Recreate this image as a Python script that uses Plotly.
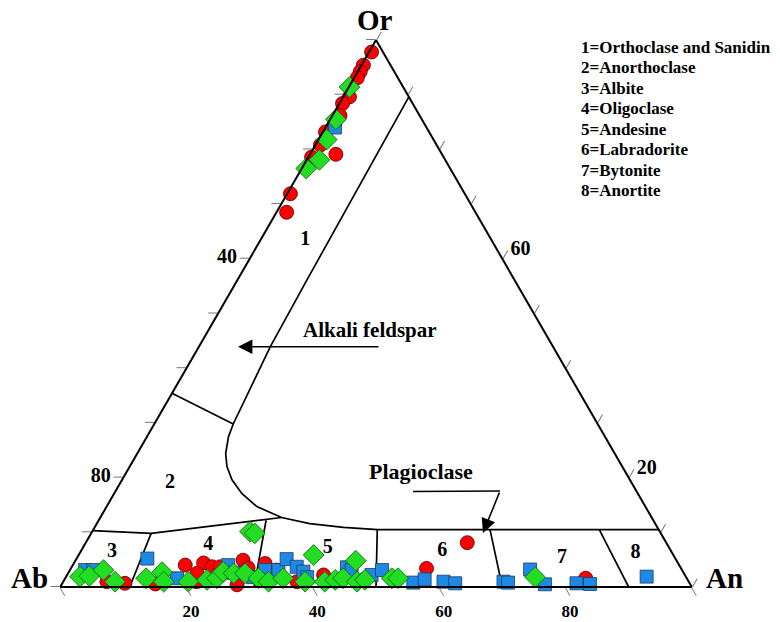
import plotly.graph_objects as go

# ---------------- data (percent Or / An; Ab = 100 - Or - An) ----------------
red_or = [97.8, 95.4, 94.2, 93.1, 89.6, 88.4, 86.2, 84.7, 83.2, 80.8, 78.6, 79.1, 71.9, 68.5,
          0.97, 0.68, 0.55, 4.0, 4.4, 3.7, 3.7, 0.97, 2.5, 4.9, 3.5, 0.4, 4.3, 3.1, 0.97, 2.2,
          1.3, 1.9, 3.4, 8.1, 1.6]
red_an = [0.4, 0.3, 0.4, 0.5, 1.0, 0.5, 1.2, 1.15, 0.4, 0.8, 0.5, 4.1, 0.5, 1.6,
          6.9, 9.9, 14.8, 17.8, 20.5, 22.2, 23.5, 21.1, 20.4, 26.5, 28.0, 27.8, 30.3, 32.7, 37.0, 40.6,
          47.3, 47.8, 56.3, 60.4, 82.4]

blue_or = [84.0,
           3.1, 3.1, 5.2, 1.6, 4.0, 2.6, 1.8, 3.1, 3.1, 5.1, 3.7, 2.8, 1.8, 3.6, 3.1, 2.2, 3.1,
           0.8, 1.4, 0.97, 0.68, 0.97, 0.8, 3.2, 0.5, 0.68, 0.55, 1.9]
blue_an = [1.5,
           2.4, 3.7, 11.2, 17.7, 24.6, 26.1, 29.6, 30.9, 33.0, 33.3, 35.6, 37.1, 38.2, 43.6, 44.6, 48.2, 49.4,
           55.5, 57.0, 60.2, 62.2, 69.7, 70.5, 72.8, 76.5, 81.4, 83.6, 91.9]

green_or = [91.4, 85.5, 81.8, 78.1, 76.5,
            1.9, 2.0, 3.1, 0.97, 1.6, 2.7, 0.97, 0.97, 1.3, 1.6, 2.8, 2.5, 2.5, 10.1, 9.8,
            1.6, 0.97, 1.6, 0.97, 5.85, 0.97, 1.3, 1.6, 4.8, 0.97, 1.3, 1.6, 1.6, 1.8]
green_an = [0.1, 0.9, 1.3, 2.0, 0.7,
            2.2, 3.6, 5.3, 8.2, 12.8, 14.8, 15.9, 19.8, 22.6, 24.0, 24.4, 26.2, 28.0, 25.0, 25.9,
            30.6, 32.5, 34.5, 38.3, 37.2, 41.4, 42.9, 44.0, 44.4, 46.5, 47.6, 51.7, 52.7, 74.3]

# field boundaries (Or, An)
gap_or = [89.6, 56.1, 43.9, 29.8, 27.5, 24.4, 22.0, 19.6, 17.1, 14.7, 12.7, 11.6, 10.9, 10.5, 10.5]
gap_an = [10.4, 11.0, 11.3, 12.5, 12.9, 14.0, 15.4, 17.4, 20.2, 23.8, 28.7, 33.7, 39.4, 45.0, 89.5]

anortho_or = [35.4, 29.8]
anortho_an = [0.0, 12.5]

plag_top_or = [10.3, 9.8, 12.7]
plag_top_an = [0.0, 9.5, 28.7]

div_top_or = [9.8, 12.2, 10.4, 10.5, 10.5]
div_top_an = [9.5, 26.5, 45.0, 62.8, 80.1]
div_bot_an = [11.0, 30.7, 50.0, 70.0, 90.0]

field_names = ["1", "2", "3", "4", "5", "6", "7", "8"]
field_or = [63.4, 19.0, 6.4, 7.7, 7.1, 6.6, 5.3, 6.2]
field_an = [7.1, 7.9, 5.0, 19.6, 38.8, 57.2, 76.8, 88.0]

legend_lines = ["1=Orthoclase and Sanidin", "2=Anorthoclase", "3=Albite", "4=Oligoclase",
                "5=Andesine", "6=Labradorite", "7=Bytonite", "8=Anortite"]

left_ticks = list(range(0, 101, 10))            # Or values on the left edge
left_text = {60: "40", 20: "80"}                # labelled as Ab
right_ticks = list(range(0, 101, 10))           # An values on the right edge
right_text = {40: "60", 80: "20"}               # labelled as Or
bottom_ticks = list(range(0, 101, 20))          # Ab values on the bottom edge
bottom_text = {80: "20", 60: "40", 40: "60", 20: "80"}  # labelled as An

SERIF = "Liberation Serif"


def ab(or_list, an_list):
    return [100 - o - a for o, a in zip(or_list, an_list)]


fig = go.Figure()


def add_line(o, a):
    fig.add_trace(go.Scatterternary(a=o, b=ab(o, a), c=a, mode="lines",
                                    line=dict(color="black", width=1.7),
                                    hoverinfo="skip", cliponaxis=False))


add_line(gap_or, gap_an)
add_line(anortho_or, anortho_an)
add_line(plag_top_or, plag_top_an)
for to, ta, ba in zip(div_top_or, div_top_an, div_bot_an):
    add_line([to, 0], [ta, ba])

fig.add_trace(go.Scatterternary(a=red_or, b=ab(red_or, red_an), c=red_an, mode="markers",
                                marker=dict(symbol="circle", size=14, color="#ff0000",
                                            line=dict(color="#500000", width=0.8)),
                                cliponaxis=False))
fig.add_trace(go.Scatterternary(a=blue_or, b=ab(blue_or, blue_an), c=blue_an, mode="markers",
                                marker=dict(symbol="square", size=13, color="#1e88e5",
                                            line=dict(color="#1a3d66", width=0.8)),
                                cliponaxis=False))
fig.add_trace(go.Scatterternary(a=green_or, b=ab(green_or, green_an), c=green_an, mode="markers",
                                marker=dict(symbol="diamond", size=16, color="#22dd22",
                                            line=dict(color="#0b5a0b", width=0.8)),
                                cliponaxis=False))

fig.add_trace(go.Scatterternary(a=field_or, b=ab(field_or, field_an), c=field_an, mode="text",
                                text=field_names,
                                textfont=dict(family=SERIF, size=20, color="black", weight="bold"),
                                cliponaxis=False))


def axis(vals, labels, size):
    return dict(min=0, tickmode="array", tickvals=vals,
                ticktext=[labels.get(v, "") for v in vals],
                tickfont=dict(family=SERIF, size=size, color="black", weight="bold"),
                ticks="outside", ticklen=9, tickcolor="#777777", tickwidth=1,
                showline=True, linecolor="black", linewidth=2, showgrid=False, title=dict(text=""))


L, R, T, B = 60, 88, 40, 35
W, H = 780, 622
PW, PH = W - L - R, H - T - B


def px(x, y):
    return (x - L) / PW, (H - B - y) / PH


ann = []


def text_at(x, y, s, size, xanchor="center", yanchor="middle", align="center"):
    X, Y = px(x, y)
    ann.append(dict(x=X, y=Y, xref="paper", yref="paper", text=s, showarrow=False,
                    xanchor=xanchor, yanchor=yanchor, align=align,
                    font=dict(family=SERIF, size=size, color="black", weight="bold")))


text_at(375, 20, "Or", 29)
text_at(30, 578, "Ab", 29)
text_at(724, 578, "An", 29)
for i, line in enumerate(legend_lines):
    text_at(579, 47 + 20.5 * i, line, 17, xanchor="left")
text_at(370, 330, "Alkali feldspar", 21)
text_at(421, 471, "Plagioclase", 22)

hx, hy = px(238, 346.7)
ann.append(dict(x=hx, y=hy, xref="paper", yref="paper", text="", showarrow=True,
                ax=142, ay=0, arrowhead=2, arrowsize=1.8, arrowwidth=1.6, arrowcolor="black"))
hx, hy = px(483, 533)
ann.append(dict(x=hx, y=hy, xref="paper", yref="paper", text="", showarrow=True,
                ax=17, ay=-42, arrowhead=2, arrowsize=1.8, arrowwidth=1.6, arrowcolor="black"))

x0, y0 = px(413, 491.5)
x1, y1 = px(500, 491)
shapes = [dict(type="line", xref="paper", yref="paper", x0=x0, y0=y0, x1=x1, y1=y1,
               line=dict(color="black", width=1.6))]

fig.update_layout(
    width=W, height=H, margin=dict(l=L, r=R, t=T, b=B),
    paper_bgcolor="white", plot_bgcolor="white", showlegend=False,
    ternary=dict(sum=100, bgcolor="white", domain=dict(x=[0, 1], y=[0, 1]),
                 aaxis=axis(left_ticks, left_text, 20),
                 baxis=axis(bottom_ticks, bottom_text, 17),
                 caxis=axis(right_ticks, right_text, 20)),
    annotations=ann, shapes=shapes,
)

fig.write_html("out.html")
